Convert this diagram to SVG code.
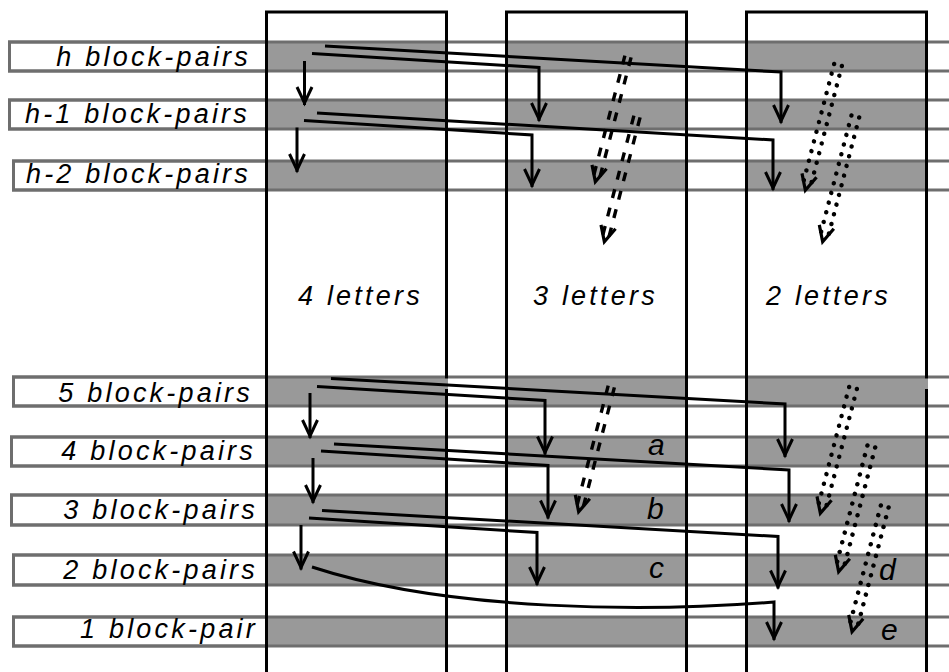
<svg xmlns="http://www.w3.org/2000/svg" width="949" height="672" viewBox="0 0 949 672">
  <style>
    .box { fill: #ffffff; stroke: #6e6e6e; stroke-width: 3; }
    .rule { stroke: #6e6e6e; stroke-width: 3; }
    .cell { fill: #999999; }
    .col { fill: none; stroke: #000000; stroke-width: 3; }
    .conn { fill: none; stroke: #000000; stroke-width: 3; stroke-linejoin: miter; marker-end: url(#vee); }
    .dash { fill: none; stroke: #000000; stroke-width: 3.4; stroke-dasharray: 9 10; }
    .dots { fill: none; stroke: #000000; stroke-width: 4.5; stroke-linecap: round; stroke-dasharray: 0 10; }
    .head { fill: none; stroke: #000000; stroke-width: 3.2; stroke-linejoin: miter; }
    .lbl { font-family: "Liberation Sans", Arial, sans-serif; font-style: italic; font-size: 27px; letter-spacing: 3.2px; text-anchor: end; fill: #000000; }
    .title { font-family: "Liberation Sans", Arial, sans-serif; font-style: italic; font-size: 27px; letter-spacing: 3.2px; fill: #000000; }
    .tag { font-family: "Liberation Sans", Arial, sans-serif; font-style: italic; font-size: 30px; fill: #000000; }
  </style>
  <defs>
    <marker id="vee" markerUnits="userSpaceOnUse" orient="auto" markerWidth="20" markerHeight="20" refX="0" refY="0" overflow="visible">
      <path d="M-18,-7.5 L-2,0 L-18,7.5" fill="none" stroke="#000000" stroke-width="3" stroke-linejoin="miter"/>
    </marker>
    <g id="dashArrow">
      <line class="dash" x1="-3.2" y1="0" x2="-3.2" y2="124"/>
      <line class="dash" x1="3.2" y1="0" x2="3.2" y2="124"/>
      <path class="head" d="M-7.5,114 L0,129.5 L7.5,114"/>
    </g>
    <g id="dotArrow">
      <line class="dots" x1="-4" y1="0" x2="-4" y2="122"/>
      <line class="dots" x1="4" y1="0" x2="4" y2="122"/>
      <path class="head" d="M-7.5,114 L0,129.5 L7.5,114"/>
    </g>
  </defs>

  <!-- rows: label box, shaded cells in each column, rules across the width -->
  <g id="row-h">
    <rect class="box" x="9.5" y="42" width="257" height="29"/>
    <rect class="cell" x="266.5" y="42" width="180" height="29"/>
    <rect class="cell" x="506.5" y="42" width="180" height="29"/>
    <rect class="cell" x="746.5" y="42" width="180" height="29"/>
    <line class="rule" x1="8" y1="42" x2="949" y2="42"/>
    <line class="rule" x1="8" y1="71" x2="949" y2="71"/>
  </g>
  <g id="row-h1">
    <rect class="box" x="9.5" y="100" width="257" height="29"/>
    <rect class="cell" x="266.5" y="100" width="180" height="29"/>
    <rect class="cell" x="506.5" y="100" width="180" height="29"/>
    <rect class="cell" x="746.5" y="100" width="180" height="29"/>
    <line class="rule" x1="8" y1="100" x2="949" y2="100"/>
    <line class="rule" x1="8" y1="129" x2="949" y2="129"/>
  </g>
  <g id="row-h2">
    <rect class="box" x="13.5" y="161" width="253" height="29"/>
    <rect class="cell" x="266.5" y="161" width="180" height="29"/>
    <rect class="cell" x="506.5" y="161" width="180" height="29"/>
    <rect class="cell" x="746.5" y="161" width="180" height="29"/>
    <line class="rule" x1="12" y1="161" x2="949" y2="161"/>
    <line class="rule" x1="12" y1="190" x2="949" y2="190"/>
  </g>
  <g id="row-5">
    <rect class="box" x="13.5" y="377" width="253" height="29"/>
    <rect class="cell" x="266.5" y="377" width="180" height="29"/>
    <rect class="cell" x="506.5" y="377" width="180" height="29"/>
    <rect class="cell" x="746.5" y="377" width="180" height="29"/>
    <line class="rule" x1="12" y1="377" x2="949" y2="377"/>
    <line class="rule" x1="12" y1="406" x2="949" y2="406"/>
  </g>
  <g id="row-4">
    <rect class="box" x="11.5" y="437" width="255" height="29"/>
    <rect class="cell" x="266.5" y="437" width="180" height="29"/>
    <rect class="cell" x="506.5" y="437" width="180" height="29"/>
    <rect class="cell" x="746.5" y="437" width="180" height="29"/>
    <line class="rule" x1="10" y1="437" x2="949" y2="437"/>
    <line class="rule" x1="10" y1="466" x2="949" y2="466"/>
  </g>
  <g id="row-3">
    <rect class="box" x="11.5" y="495" width="255" height="30"/>
    <rect class="cell" x="266.5" y="495" width="180" height="30"/>
    <rect class="cell" x="506.5" y="495" width="180" height="30"/>
    <rect class="cell" x="746.5" y="495" width="180" height="30"/>
    <line class="rule" x1="10" y1="495" x2="949" y2="495"/>
    <line class="rule" x1="10" y1="525" x2="949" y2="525"/>
  </g>
  <g id="row-2">
    <rect class="box" x="13.5" y="555" width="253" height="30"/>
    <rect class="cell" x="266.5" y="555" width="180" height="30"/>
    <rect class="cell" x="506.5" y="555" width="180" height="30"/>
    <rect class="cell" x="746.5" y="555" width="180" height="30"/>
    <line class="rule" x1="12" y1="555" x2="949" y2="555"/>
    <line class="rule" x1="12" y1="585" x2="949" y2="585"/>
  </g>
  <g id="row-1">
    <rect class="box" x="13.5" y="617" width="253" height="29"/>
    <rect class="cell" x="266.5" y="617" width="180" height="29"/>
    <rect class="cell" x="506.5" y="617" width="180" height="29"/>
    <rect class="cell" x="746.5" y="617" width="180" height="29"/>
    <line class="rule" x1="12" y1="617" x2="949" y2="617"/>
    <line class="rule" x1="12" y1="646" x2="949" y2="646"/>
  </g>

  <!-- letter columns -->
  <g id="col-4">
    <rect class="col" x="266.5" y="12" width="180" height="700"/>
  </g>
  <g id="col-3">
    <rect class="col" x="506.5" y="12" width="180" height="700"/>
  </g>
  <g id="col-2">
    <rect class="col" x="746.5" y="12" width="180" height="700"/>
  </g>
  <!-- shading of row 5 laps over two column edges -->
  <rect class="cell" x="445" y="378.5" width="3" height="10.5"/>
  <rect class="cell" x="925" y="378.5" width="3" height="10.5"/>

  <!-- connectors -->
  <g id="connectors">
    <path class="conn" d="M325,46 L781,72 L781,123"/>
    <path class="conn" d="M312,53.5 L539,67.5 L539,121"/>
    <path class="conn" d="M304.5,61 L304.5,105"/>

    <path class="conn" d="M317,113 L773,140 L773,190"/>
    <path class="conn" d="M304,120.5 L532,135 L532,187"/>
    <path class="conn" d="M297,127.5 L297,172"/>

    <path class="conn" d="M331,378.5 L785,404 L785,457"/>
    <path class="conn" d="M317,386.5 L545,400.5 L545,454.5"/>
    <path class="conn" d="M310,393 L310,438"/>

    <path class="conn" d="M334,444 L789,470 L789,522"/>
    <path class="conn" d="M321,451 L548,465.5 L548,518.5"/>
    <path class="conn" d="M313,458 L313,503"/>

    <path class="conn" d="M322,510.5 L778,536.5 L778,588.5"/>
    <path class="conn" d="M309,518 L537,532.5 L537,585"/>
    <path class="conn" d="M301,525 L301,569.5"/>

    <path class="conn" d="M312,567 C450,612 650,612 774,602 L774,640"/>

    <use href="#dashArrow" transform="translate(628,56.5) rotate(14.6)"/>
    <use href="#dashArrow" transform="translate(637,116.5) rotate(14.6)"/>
    <use href="#dashArrow" transform="translate(611.3,386.5) rotate(14.6)"/>

    <use href="#dotArrow" transform="translate(838,65) rotate(14.6)"/>
    <use href="#dotArrow" transform="translate(855.3,116.5) rotate(14.6)"/>
    <use href="#dotArrow" transform="translate(853,388) rotate(14.6)"/>
    <use href="#dotArrow" transform="translate(871.3,446.5) rotate(14.6)"/>
    <use href="#dotArrow" transform="translate(884.7,506.5) rotate(14.6)"/>
  </g>

  <!-- texts -->
  <g id="labels">
    <text class="lbl" x="251" y="66">h block-pairs</text>
    <text class="lbl" x="250" y="123">h-1 block-pairs</text>
    <text class="lbl" x="251" y="183">h-2 block-pairs</text>
    <text class="lbl" x="253" y="402">5 block-pairs</text>
    <text class="lbl" x="256" y="460">4 block-pairs</text>
    <text class="lbl" x="258" y="519">3 block-pairs</text>
    <text class="lbl" x="258" y="579">2 block-pairs</text>
    <text class="lbl" x="258" y="638">1 block-pair</text>

    <text class="title" x="298" y="305">4 letters</text>
    <text class="title" x="533" y="305">3 letters</text>
    <text class="title" x="766" y="305">2 letters</text>

    <text class="tag" x="648" y="455">a</text>
    <text class="tag" x="647" y="519">b</text>
    <text class="tag" x="649" y="578">c</text>
    <text class="tag" x="879" y="580">d</text>
    <text class="tag" x="881" y="640">e</text>
  </g>
</svg>
